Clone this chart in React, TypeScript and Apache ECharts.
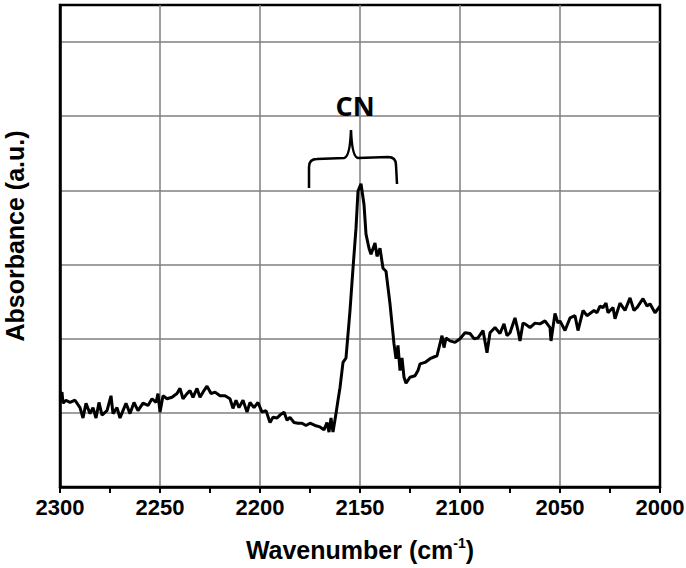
import React, { useEffect, useRef } from "react";
import * as echarts from "echarts";

const wavenumbers: number[] = [
  2300, 2299, 2298.5, 2297, 2295, 2292.5, 2290, 2288.5, 2287, 2285, 2283.5, 2282, 2280.5, 2279, 2276.5, 2274.5,
  2273.5, 2271.5, 2270, 2268.5, 2267, 2265, 2263, 2261, 2258.5, 2256, 2254, 2252, 2251, 2250, 2248.5, 2246.5,
  2244, 2241.5, 2240, 2238.5, 2236.5, 2235, 2233.5, 2231.5, 2230, 2228, 2226.5, 2224.5, 2222.5, 2220, 2217.5,
  2215, 2213.5, 2212, 2210.5, 2208.5, 2206.5, 2205, 2203, 2201, 2199, 2197, 2195, 2193.5, 2191.5, 2190, 2188,
  2186.5, 2185, 2183, 2181, 2179, 2177, 2175, 2172.5, 2170, 2168, 2166.5, 2165.5, 2164.5, 2163.5, 2162, 2161,
  2160, 2158.5, 2157, 2155, 2153.5, 2152, 2151, 2149.5, 2148, 2147, 2145.5, 2144.5, 2142.5, 2141.5, 2140,
  2138.5, 2137, 2135, 2133, 2132, 2131, 2130, 2129, 2128, 2127, 2125, 2122.5, 2121, 2120, 2117.5, 2115,
  2111.5, 2109, 2108, 2107, 2105, 2102.5, 2100, 2097.5, 2095, 2093, 2091, 2088.5, 2086.5, 2085, 2082.5, 2080,
  2078, 2076.5, 2075, 2072.5, 2071, 2070, 2068.5, 2067.5, 2065, 2062.5, 2060, 2057.5, 2055, 2054.5, 2052.5,
  2051, 2050, 2047.5, 2045, 2042.5, 2041, 2038.5, 2036.5, 2035, 2033, 2031.5, 2030, 2028.5, 2027, 2026,
  2023.5, 2022.5, 2020, 2017.5, 2015, 2013, 2011.5, 2008.5, 2006.5, 2005, 2002.5, 2000,
];

const absorbance: number[] = [
  1.22, 1.28, 1.13, 1.17, 1.14, 1.17, 1.07, 0.93, 1.13, 0.99, 1.07, 0.93, 1.14, 0.97, 1.03, 1.23,
  0.99, 1.07, 0.93, 1.03, 1.13, 0.99, 1.14, 1.03, 1.13, 1.1, 1.19, 1.14, 1.26, 1.01, 1.23, 1.19,
  1.21, 1.26, 1.33, 1.19, 1.26, 1.3, 1.21, 1.33, 1.21, 1.3, 1.36, 1.26, 1.28, 1.23, 1.23,
  1.19, 1.06, 1.17, 1.07, 1.17, 1.01, 1.14, 1.07, 1.14, 1.01, 1.03, 0.87, 0.94, 0.93, 0.97, 1.01,
  0.9, 0.94, 0.87, 0.86, 0.86, 0.83, 0.86, 0.83, 0.81, 0.77, 0.87, 0.74, 0.93, 0.74, 0.99, 1.17,
  1.34, 1.68, 1.74, 2.38, 2.95, 3.49, 3.99, 4.09, 3.81, 3.41, 3.22, 3.14, 3.29, 3.11, 3.22,
  2.95, 2.91, 2.47, 1.93, 1.73, 1.91, 1.57, 1.74, 1.48, 1.4, 1.48, 1.5, 1.57, 1.66, 1.68, 1.73,
  1.77, 2.04, 1.88, 2.01, 1.97, 1.95, 2.0, 2.08, 2.07, 2.0, 2.01, 2.11, 1.81, 2.08, 2.15, 2.07,
  2.2, 2.04, 2.08, 2.28, 2.11, 1.97, 2.21, 2.2, 2.15, 2.21, 2.2, 2.24, 2.15, 1.97, 2.34,
  2.21, 2.24, 2.11, 2.28, 2.31, 2.11, 2.38, 2.31, 2.34, 2.38, 2.35, 2.44, 2.42, 2.48, 2.35,
  2.42, 2.27, 2.48, 2.38, 2.55, 2.38, 2.42, 2.54, 2.44, 2.47, 2.35, 2.44,
];

const xTicks = { min: 2000, max: 2300, interval: 50 };
const yTicks = { min: 0, max: 6.5, interval: 1 };

const BRACE_D =
  "M309,188 L309,167 Q309,159 317,159 L344,158 Q350,157 351,130 Q352,157 358,158 L388,157 Q396,157 396,165 L397,184";

let registered = false;

export default function App() {
  const ref = useRef<HTMLDivElement>(null);

  useEffect(() => {
    document.body.style.margin = "0";
    if (!registered) {
      echarts.graphic.registerShape("brace", echarts.graphic.extendPath(BRACE_D, {}) as any);
      registered = true;
    }
    const chart = echarts.init(ref.current!, null, { renderer: "svg" });
    const data = wavenumbers.map((w, i) => [w, absorbance[i]]);
    chart.setOption({
      animation: false,
      backgroundColor: "#ffffff",
      grid: {
        left: 60,
        right: 26,
        top: 5,
        bottom: 81,
        containLabel: false,
        outerBoundsMode: "none",
        show: true,
        borderColor: "#000",
        borderWidth: 2.5,
        backgroundColor: "transparent",
      },
      xAxis: {
        type: "value",
        min: xTicks.min,
        max: xTicks.max,
        interval: xTicks.interval,
        inverse: true,
        name: "{a|Wavenumber (cm}{s|-1}{a|)}",
        nameLocation: "middle",
        nameGap: 49,
        nameTextStyle: {
          rich: {
            a: { fontFamily: "Liberation Sans", fontWeight: "bold", fontSize: 25, color: "#000", lineHeight: 27 },
            s: { fontFamily: "Liberation Sans", fontWeight: "bold", fontSize: 14, color: "#000", verticalAlign: "top", lineHeight: 27 },
          },
        },
        axisLine: { show: true, lineStyle: { color: "#000", width: 2.5 } },
        axisTick: { show: true, inside: false, length: 6, lineStyle: { color: "#000", width: 2 } },
        minorTick: { show: true, splitNumber: 2, length: 6, lineStyle: { color: "#000", width: 2 } },
        axisLabel: {
          margin: 9,
          fontFamily: "'Liberation Sans Narrow', 'Liberation Sans', Arial, sans-serif",
          fontWeight: "bold",
          fontSize: 22,
          color: "#000",
          formatter: (v: number) => String(v),
        },
        splitLine: {
          show: true,
          showMinLine: false,
          showMaxLine: false,
          lineStyle: { color: "#7f7f7f", width: 1.5 },
        },
      },
      yAxis: {
        type: "value",
        min: yTicks.min,
        max: yTicks.max,
        interval: yTicks.interval,
        name: "Absorbance (a.u.)",
        nameLocation: "middle",
        nameGap: 33,
        nameTextStyle: {
          fontFamily: "Liberation Sans",
          fontWeight: "bold",
          fontSize: 25,
          color: "#000",
          padding: [0, 0, 0, 20],
        },
        axisLine: { show: true, lineStyle: { color: "#000", width: 2.5 } },
        axisTick: { show: false },
        axisLabel: { show: false },
        splitLine: {
          show: true,
          showMinLine: false,
          showMaxLine: false,
          lineStyle: { color: "#7f7f7f", width: 1.5 },
        },
      },
      series: [
        {
          type: "line",
          data,
          showSymbol: false,
          symbol: "none",
          lineStyle: { color: "#000", width: 3 },
          z: 5,
        },
      ],
      graphic: [
        {
          type: "brace",
          x: 0,
          y: 0,
          z: 10,
          style: { stroke: "#000", fill: "none", lineWidth: 2.5 },
        },
        {
          type: "text",
          x: 355,
          y: 105,
          z: 10,
          style: {
            text: "CN",
            fill: "#000",
            fontFamily: "Open Sans",
            fontWeight: "bold",
            fontSize: 27,
            align: "center",
            verticalAlign: "middle",
          },
        },
      ],
    });
    return () => chart.dispose();
  }, []);

  return <div ref={ref} style={{ width: 686, height: 568 }} />;
}
